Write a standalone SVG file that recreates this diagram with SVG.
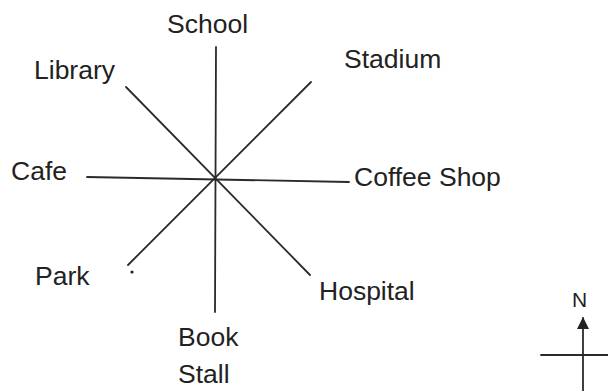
<svg xmlns="http://www.w3.org/2000/svg" width="608" height="391" viewBox="0 0 608 391">
<style>
text{font-family:"Liberation Sans",Arial,sans-serif;font-size:26.5px;fill:#222}
.ln{stroke:#2a2a2a;stroke-width:1.8;fill:none;stroke-linecap:round}
</style>
<defs>
<marker id="ah" markerWidth="12" markerHeight="12" refX="11" refY="6" orient="auto-start-reverse" markerUnits="userSpaceOnUse"><path d="M0,0 L12,6 L0,12 Z" fill="#222"/></marker>
</defs>
<rect width="608" height="391" fill="#fff"/>
<g id="connectors">
<line class="ln" x1="216" y1="47" x2="215" y2="312"/>
<line class="ln" x1="87" y1="177" x2="349" y2="182"/>
<line class="ln" x1="126" y1="87" x2="310" y2="275"/>
<line class="ln" x1="311" y1="82" x2="128" y2="265"/>
<circle cx="132" cy="272" r="1.6" fill="#222"/>
</g>
<g id="school"><text x="167" y="33">School</text></g>
<g id="stadium"><text x="344" y="68">Stadium</text></g>
<g id="library"><text x="34" y="79">Library</text></g>
<g id="cafe"><text x="11" y="180">Cafe</text></g>
<g id="coffee-shop"><text x="354" y="186">Coffee Shop</text></g>
<g id="park"><text x="35" y="285">Park</text></g>
<g id="hospital"><text x="319" y="300">Hospital</text></g>
<g id="book-stall"><text x="178" y="346">Book</text><text x="178" y="383">Stall</text></g>
<g id="compass">
<text x="572" y="307" style="font-size:21px">N</text>
<line class="ln" x1="583" y1="318" x2="583" y2="391" marker-start="url(#ah)"/>
<line class="ln" x1="541" y1="355" x2="608" y2="355"/>
</g>
</svg>
